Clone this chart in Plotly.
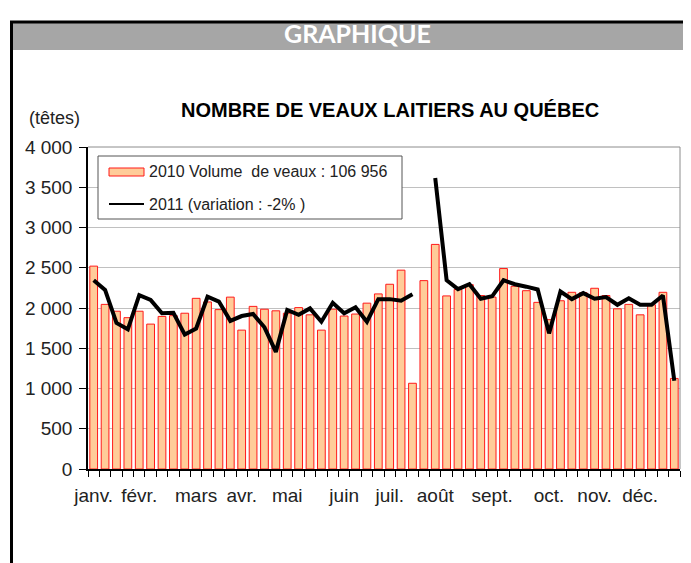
import plotly.graph_objects as go

weeks = [str(i) for i in range(1, 53)]

vol_2010 = [2520, 2045, 1960, 1880, 1960, 1800, 1895, 1905, 1935, 2120,
            2075, 1980, 2135, 1725, 2020, 1985, 1965, 1935, 2005, 1915,
            1725, 1985, 1900, 1925, 2060, 2175, 2295, 2470, 1065, 2340,
            2790, 2150, 2230, 2290, 2155, 2135, 2490, 2270, 2215, 2070,
            1855, 2090, 2195, 2190, 2245, 2155, 1990, 2045, 1915, 2040,
            2195, 1125]

vol_2011 = [2345, 2225, 1815, 1735, 2160, 2100, 1935, 1940, 1670, 1745,
            2140, 2080, 1840, 1900, 1925, 1760, 1455, 1975, 1915, 1995,
            1830, 2065, 1935, 2010, 1830, 2110, 2110, 2090, 2170, None,
            3615, 2345, 2235, 2295, 2115, 2145, 2345, 2295, 2265, 2230,
            1685, 2205, 2110, 2185, 2115, 2135, 2040, 2120, 2040, 2040,
            2155, 1095]

month_labels = ["janv.", "févr.", "mars", "avr.", "mai", "juin",
                "juil.", "août", "sept.", "oct.", "nov.", "déc."]
month_start_week = [1, 5, 10, 14, 18, 23, 27, 31, 36, 41, 45, 49]

y_ticks = [0, 500, 1000, 1500, 2000, 2500, 3000, 3500, 4000]

header_text = "GRAPHIQUE"
chart_title = "NOMBRE DE VEAUX LAITIERS AU QUÉBEC"
unit_label = "(têtes)"
legend_2010 = "2010 Volume  de veaux : 106 956"
legend_2011 = "2011 (variation : -2% )"

FONT = "Liberation Sans, Arial, sans-serif"
OFF = 8  # page body margin
W, H = 691 - OFF, 563 - OFF
# plot area in screen pixels: x 88..680, y 147..469
L, T = 88 - OFF, 147 - OFF
R = W - (680 - OFF)
B = H - (469 - OFF)
PW, PH = W - L - R, H - T - B


def px(x):
    return (x - OFF - L) / PW


def py(y):
    return (H - B - (y - OFF)) / PH


tick_text = [""] * len(weeks)
for lab, wk in zip(month_labels, month_start_week):
    tick_text[wk - 1] = lab

fig = go.Figure()
fig.add_trace(go.Bar(
    x=weeks, y=vol_2010, name=legend_2010,
    marker=dict(color="#FFCC99", line=dict(color="#FF1a1a", width=1)),
    showlegend=False,
))
fig.add_trace(go.Scatter(
    x=weeks, y=vol_2011, name=legend_2011, mode="lines",
    line=dict(color="black", width=4), connectgaps=False,
    showlegend=False,
))

shapes = []
# frame lines and header band
shapes.append(dict(type="rect", xref="paper", yref="paper",
                   x0=px(13), x1=px(700), y0=py(50), y1=py(23),
                   fillcolor="#a6a6a6", line=dict(width=0), layer="below"))
shapes.append(dict(type="line", xref="paper", yref="paper",
                   x0=px(10), x1=px(700), y0=py(22), y1=py(22),
                   line=dict(color="black", width=3)))
shapes.append(dict(type="line", xref="paper", yref="paper",
                   x0=px(11.5), x1=px(11.5), y0=py(21), y1=py(600),
                   line=dict(color="black", width=3)))
# plot area border (top, right)
shapes.append(dict(type="line", xref="paper", yref="paper",
                   x0=0, x1=1, y0=1, y1=1,
                   line=dict(color="#8c8c8c", width=1)))
shapes.append(dict(type="line", xref="paper", yref="paper",
                   x0=1, x1=1, y0=0, y1=1,
                   line=dict(color="#8c8c8c", width=1)))
# legend box
shapes.append(dict(type="rect", xref="paper", yref="paper",
                   x0=px(98), x1=px(402), y0=py(219), y1=py(156),
                   fillcolor="white", line=dict(color="#555555", width=1)))
shapes.append(dict(type="rect", xref="paper", yref="paper",
                   x0=px(109), x1=px(144), y0=py(176), y1=py(168),
                   fillcolor="#FFCC99", line=dict(color="#FF1a1a", width=1)))
shapes.append(dict(type="line", xref="paper", yref="paper",
                   x0=px(109), x1=px(144), y0=py(204), y1=py(204),
                   line=dict(color="black", width=2)))

annotations = [
    dict(text=f"<b>{header_text}</b>", xref="paper", yref="paper",
         x=px(357), y=py(33), showarrow=False,
         font=dict(family="Lato, Open Sans, sans-serif", size=25, color="white"),
         xanchor="center", yanchor="middle"),
    dict(text=f"<b>{chart_title}</b>", xref="paper", yref="paper",
         x=px(390), y=py(110), showarrow=False,
         font=dict(family=FONT, size=20, color="black"),
         xanchor="center", yanchor="middle"),
    dict(text=unit_label, xref="paper", yref="paper",
         x=px(27), y=py(118), showarrow=False,
         font=dict(family=FONT, size=18, color="#222222"),
         xanchor="left", yanchor="middle"),
    dict(text=legend_2010, xref="paper", yref="paper",
         x=px(147), y=py(171), showarrow=False,
         font=dict(family=FONT, size=16, color="#222222"),
         xanchor="left", yanchor="middle"),
    dict(text=legend_2011, xref="paper", yref="paper",
         x=px(147), y=py(204), showarrow=False,
         font=dict(family=FONT, size=16, color="#222222"),
         xanchor="left", yanchor="middle"),
]

fig.update_layout(
    width=W, height=H,
    margin=dict(l=L, r=R, t=T, b=B, pad=0),
    paper_bgcolor="white", plot_bgcolor="white",
    bargap=0.32,
    separators=", ",
    font=dict(family=FONT, size=19, color="#222222"),
    shapes=shapes, annotations=annotations,
    showlegend=False,
)
fig.update_xaxes(
    type="category", tickmode="array", tickvals=weeks, ticktext=tick_text,
    tickson="boundaries", ticks="outside", ticklen=6, tickcolor="black",
    showline=True, linecolor="black", linewidth=1.5, showgrid=False,
    tickangle=0, tickfont=dict(size=19, color="#222222"),
    ticklabelstandoff=8,
)
fig.update_yaxes(
    range=[0, 4000], tickmode="array", tickvals=y_ticks, tickformat=",d",
    ticks="outside", ticklen=7, tickcolor="black",
    showline=True, linecolor="black", linewidth=1.5,
    showgrid=True, gridcolor="#c0c0c0", gridwidth=1,
    tickfont=dict(size=19, color="#222222"), zeroline=False,
    ticklabelstandoff=3,
)

fig.write_html("out.html")
